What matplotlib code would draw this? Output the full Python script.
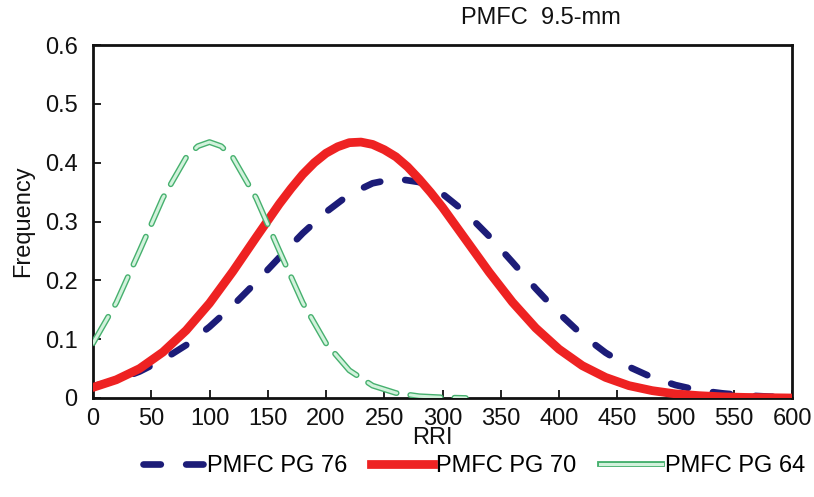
import matplotlib
matplotlib.use("Agg")
import matplotlib.pyplot as plt
import matplotlib.patheffects as pe
from matplotlib.lines import Line2D

plt.rcParams['font.family'] = ['Liberation Sans', 'DejaVu Sans']

title = "PMFC  9.5-mm"
x_label = "RRI"
y_label = "Frequency"
series_names = ["PMFC PG 76", "PMFC PG 70", "PMFC PG 64"]

# PMFC PG 76 (blue dashed)
rri_pg76 = [0, 20, 40, 60, 80, 100, 120, 140, 160, 180, 200, 220, 240, 260, 280,
            300, 320, 340, 360, 380, 400, 420, 440, 460, 480, 500, 520, 540, 560, 580, 600]
freq_pg76 = [0.020, 0.030, 0.045, 0.065, 0.090, 0.121, 0.157, 0.197, 0.239, 0.280, 0.316,
             0.346, 0.365, 0.373, 0.367, 0.347, 0.315, 0.275, 0.231, 0.186, 0.144, 0.107,
             0.077, 0.053, 0.035, 0.022, 0.013, 0.008, 0.0044, 0.0024, 0.0012]

# PMFC PG 70 (red solid)
rri_pg70 = [0, 20, 40, 60, 80, 100, 120, 140, 160, 170, 180, 190, 200, 210, 220, 230, 240,
            250, 260, 270, 280, 290, 300, 320, 340, 360, 380, 400, 420, 440, 460, 480, 500,
            520, 540, 560, 580, 600]
freq_pg70 = [0.018, 0.031, 0.050, 0.078, 0.115, 0.161, 0.215, 0.273, 0.330, 0.356, 0.380,
             0.400, 0.416, 0.427, 0.434, 0.435, 0.431, 0.422, 0.410, 0.393, 0.372, 0.349,
             0.324, 0.269, 0.214, 0.163, 0.119, 0.083, 0.055, 0.035, 0.021, 0.0125, 0.007,
             0.004, 0.002, 0.001, 0.0005, 0.0]

# PMFC PG 64 (green dashed, outlined)
rri_pg64 = [0, 20, 40, 60, 80, 90, 100, 110, 120, 140, 160, 180, 200, 220, 240, 260, 280,
            300, 320]
freq_pg64 = [0.093, 0.162, 0.250, 0.340, 0.409, 0.428, 0.435, 0.428, 0.409, 0.340, 0.250,
             0.162, 0.093, 0.047, 0.021, 0.0085, 0.003, 0.001, 0.0]

x_ticks = [0, 50, 100, 150, 200, 250, 300, 350, 400, 450, 500, 550, 600]
y_ticks = [0, 0.1, 0.2, 0.3, 0.4, 0.5, 0.6]
y_tick_labels = ["0", "0.1", "0.2", "0.3", "0.4", "0.5", "0.6"]

blue = "#1c1c78"
red = "#ee2222"
green_fill = "#d2f2dc"
green_edge = "#46b06e"

fig = plt.figure(figsize=(8.14, 4.97), dpi=100)
ax = fig.add_axes([93 / 814, 1 - 398 / 497, (792 - 93) / 814, (398 - 45) / 497])

fs = 17

ax.plot(rri_pg76, freq_pg76, color=blue, lw=4.8, dashes=(2.6, 3.8),
        dash_capstyle='round', solid_capstyle='round', zorder=2)
ax.plot(rri_pg70, freq_pg70, color=red, lw=6.3, solid_capstyle='round', zorder=3)
ax.plot(rri_pg64, freq_pg64, color=green_fill, lw=2.2, dashes=(10, 4.5),
        dash_capstyle='round', zorder=4,
        path_effects=[pe.Stroke(linewidth=4.2, foreground=green_edge), pe.Normal()])

ax.set_xlim(0, 600)
ax.set_ylim(0, 0.6)
ax.set_xticks(x_ticks)
ax.set_xticklabels([str(t) for t in x_ticks])
ax.set_yticks(y_ticks)
ax.set_yticklabels(y_tick_labels)
ax.tick_params(direction='in', length=6, width=1.3, labelsize=fs, colors='#111111')
ax.tick_params(axis='x', pad=7)
ax.tick_params(axis='y', pad=11)
for sp in ax.spines.values():
    sp.set_linewidth(2.0)
    sp.set_color('#111111')

ax.set_xlabel(x_label, fontsize=fs, color='#111111')
ax.xaxis.set_label_coords(0.485, -0.083)
ax.set_ylabel(y_label, fontsize=fs, labelpad=8, color='#111111')

fig.text(541 / 814, 1 - 18 / 497, title, ha='center', va='center', fontsize=fs, color='#111111')

handles = [
    Line2D([], [], color=blue, lw=4.8, dashes=(2.6, 3.8), dash_capstyle='round'),
    Line2D([], [], color=red, lw=6.3),
    Line2D([], [], color=green_fill, lw=2.2,
           path_effects=[pe.Stroke(linewidth=4.2, foreground=green_edge), pe.Normal()]),
]
fig.legend(handles, series_names, loc='center', bbox_to_anchor=(474 / 814, 1 - 466 / 497),
           ncol=3, frameon=False, fontsize=fs, handlelength=2.6, handletextpad=0.15,
           columnspacing=1.0, borderpad=0, borderaxespad=0)

fig.savefig("out.png", dpi=100)
